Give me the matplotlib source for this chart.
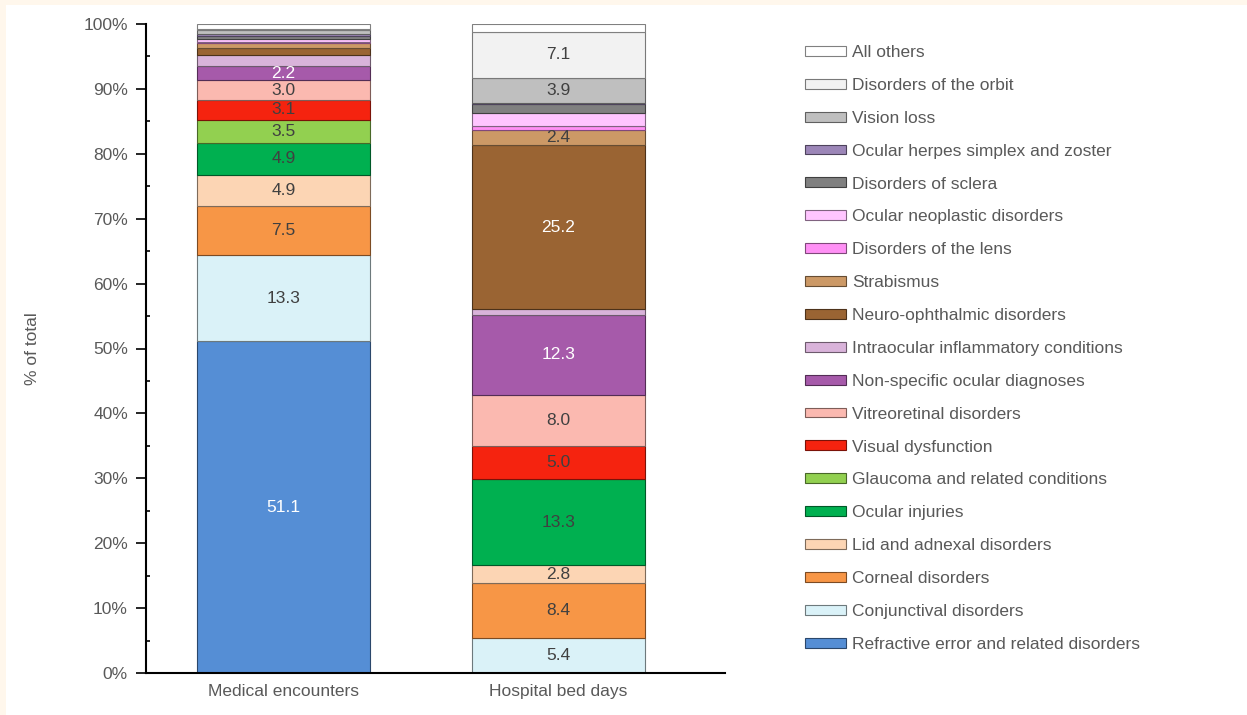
import matplotlib
matplotlib.use("Agg")
import matplotlib.pyplot as plt
import matplotlib.colors as mcolors
from matplotlib.patches import Rectangle
from matplotlib.ticker import MultipleLocator, FuncFormatter

plt.rcParams['font.family'] = ['Liberation Sans', 'DejaVu Sans']

categories = ["Medical encounters", "Hospital bed days"]

series = [
    "Refractive error and related disorders",
    "Conjunctival disorders",
    "Corneal disorders",
    "Lid and adnexal disorders",
    "Ocular injuries",
    "Glaucoma and related conditions",
    "Visual dysfunction",
    "Vitreoretinal disorders",
    "Non-specific ocular diagnoses",
    "Intraocular inflammatory conditions",
    "Neuro-ophthalmic disorders",
    "Strabismus",
    "Disorders of the lens",
    "Ocular neoplastic disorders",
    "Disorders of sclera",
    "Ocular herpes simplex and zoster",
    "Vision loss",
    "Disorders of the orbit",
    "All others",
]

medical_encounters = [51.1, 13.3, 7.5, 4.9, 4.9, 3.5, 3.1, 3.0, 2.2, 1.7,
                      1.1, 0.7, 0.3, 0.4, 0.5, 0.2, 0.6, 0.2, 0.8]
hospital_bed_days = [0.0, 5.4, 8.4, 2.8, 13.3, 0.0, 5.0, 8.0, 12.3, 0.9,
                     25.2, 2.4, 0.6, 2.0, 1.4, 0.1, 3.9, 7.1, 1.2]

colors = ["#558ED5", "#DAF2F8", "#F79646", "#FCD5B4", "#00B050", "#92D050",
          "#F5230F", "#FBB9B0", "#A65AAA", "#D9B3DA", "#9A6433", "#CC9966",
          "#FF90F5", "#FFC5FF", "#808080", "#9C86B8", "#BFBFBF", "#F2F2F2",
          "#FFFFFF"]
white_label = {"Refractive error and related disorders",
               "Non-specific ocular diagnoses", "Neuro-ophthalmic disorders"}

W, H = 1247, 715
fig = plt.figure(figsize=(W / 100, H / 100), dpi=100)
fig.patch.set_facecolor("white")
# cream border strips (top and left)
fig.patches.append(Rectangle((0, 1 - 5 / H), 1, 5 / H, transform=fig.transFigure,
                             facecolor="#FFF7EC", edgecolor="none", zorder=0))
fig.patches.append(Rectangle((0, 0), 6 / W, 1, transform=fig.transFigure,
                             facecolor="#FFF7EC", edgecolor="none", zorder=0))

ax = fig.add_axes([146 / W, 1 - 673 / H, (725 - 146) / W, (673 - 24) / H])
ax.set_facecolor("none")

data = [medical_encounters, hospital_bed_days]
xpos = list(range(len(categories)))
width = 0.629
bottoms = [0.0] * len(categories)
handles = []
for i, name in enumerate(series):
    vals = [d[i] for d in data]
    fc = mcolors.to_rgb(colors[i])
    ec = tuple(c * 0.5 for c in fc)
    bars = ax.bar(xpos, vals, width, bottom=bottoms, color=colors[i],
                  edgecolor=ec, linewidth=0.8, label=name)
    handles.append(bars)
    for j, v in enumerate(vals):
        if v > 2.05:
            ax.text(xpos[j], bottoms[j] + v / 2, f"{v:.1f}", ha="center",
                    va="center", fontsize=12.5,
                    color="white" if name in white_label else "#404040")
    bottoms = [b + v for b, v in zip(bottoms, vals)]

ax.set_xlim(-0.4927 - 2 / 275, 1.6055)
ax.set_ylim(0, 100)
ax.yaxis.set_major_locator(MultipleLocator(10))
ax.yaxis.set_minor_locator(MultipleLocator(5))
ax.yaxis.set_major_formatter(FuncFormatter(lambda v, p: f"{int(round(v))}%"))
ax.tick_params(axis="y", which="major", direction="out", length=7, width=1.2,
               labelsize=12.5, labelcolor="#595959", pad=6)
ax.tick_params(axis="y", which="minor", direction="in", length=3, width=1.2)
ax.set_xticks(xpos)
ax.set_xticklabels(categories)
ax.tick_params(axis="x", length=0, labelsize=12.5, labelcolor="#595959", pad=8)
for s in ["top", "right"]:
    ax.spines[s].set_visible(False)
ax.spines["left"].set_linewidth(1.5)
ax.spines["bottom"].set_linewidth(1.5)
ax.set_ylabel("% of total", fontsize=12.5, color="#595959", labelpad=31)

leg = fig.legend(handles[::-1], series[::-1], loc="upper left",
                 bbox_to_anchor=(805 / W, 1 - 45 / H), frameon=False,
                 fontsize=12.5, handlelength=2.36, handleheight=0.5,
                 handletextpad=0.35, labelspacing=1.03, borderpad=0,
                 borderaxespad=0)
for t in leg.get_texts():
    t.set_color("#595959")

fig.savefig("out.png", dpi=100)
